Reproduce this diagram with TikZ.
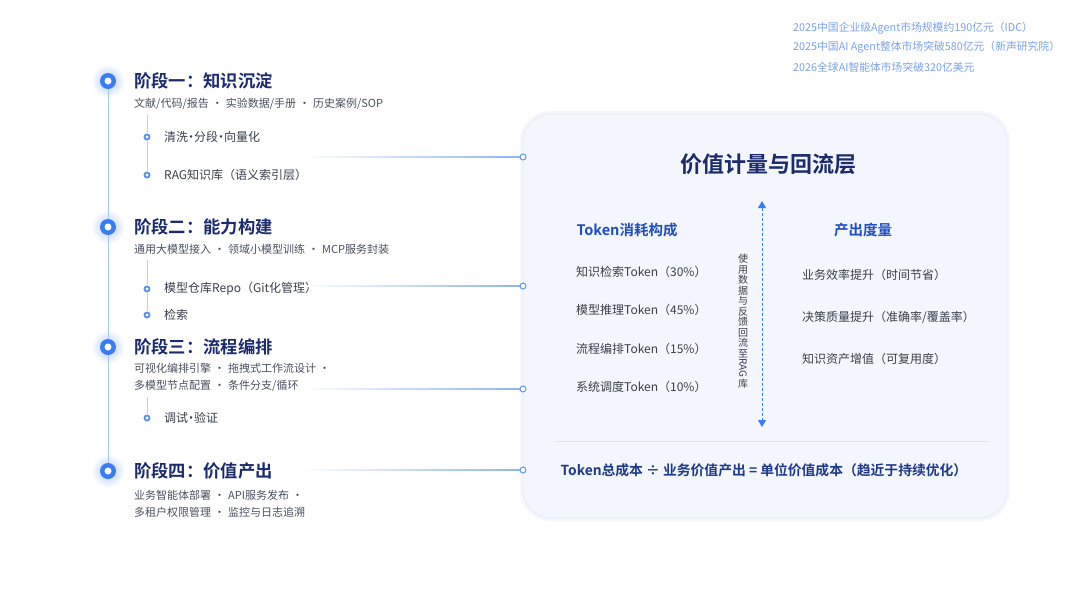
\documentclass[tikz,border=0pt]{standalone}
\usepackage{fontspec}
\setmainfont{Noto Sans CJK SC}[BoldFont={Noto Sans CJK SC Bold}]
\usetikzlibrary{arrows.meta,calc}
\definecolor{navy}{HTML}{1B2B6E}
\definecolor{headblue}{HTML}{1F4FC0}
\definecolor{txt}{HTML}{3A3F4B}
\definecolor{subgray}{HTML}{4A5060}
\definecolor{toptxt}{HTML}{7BA3E6}
\definecolor{tline}{HTML}{A9C6F8}
\definecolor{dotblue}{HTML}{3A7DF2}
\definecolor{connblue}{HTML}{8DB4F5}
\definecolor{panelfill}{HTML}{F3F6FC}
\definecolor{panelborder}{HTML}{E6ECF6}
\definecolor{sepline}{HTML}{DCE5F3}
\definecolor{formula}{HTML}{1E3A8A}
\newcommand\gsep{\hspace{6pt}\makebox[5pt][c]{·}\hspace{6pt}}
\newcommand\tsep{\hspace{1pt}\makebox[4pt][c]{·}\hspace{1pt}}
\begin{document}
\begin{tikzpicture}[x=1pt,y=-1pt,
  stagetitle/.style={anchor=west,inner sep=0,text=navy,font=\fontsize{17.3}{20}\selectfont\bfseries},
  stagesub/.style={anchor=west,inner sep=0,text=subgray,align=left,font=\fontsize{11}{17}\selectfont},
  subitem/.style={anchor=west,inner sep=0,text=txt,font=\fontsize{12}{14}\selectfont},
  stagedot/.style={circle,inner sep=0,minimum size=16pt,fill=dotblue,path picture={\fill[white] (path picture bounding box.center) circle (3.5pt);}},
  subdot/.style={circle,inner sep=0,minimum size=7pt,fill=dotblue!85,path picture={\fill[white] (path picture bounding box.center) circle (1.6pt);}},
  enddot/.style={circle,inner sep=0,minimum size=6pt,draw=dotblue!80,line width=1pt,fill=white},
  toptext/.style={anchor=west,inner sep=0,text=toptxt,font=\fontsize{10.8}{12}\selectfont},
  panelhead/.style={inner sep=0,text=headblue,font=\fontsize{14.5}{16}\selectfont\bfseries},
  leftitem/.style={anchor=west,inner sep=0,text=txt,font=\fontsize{12}{14}\selectfont},
  timeline/.style={draw=tline,line width=1pt},
  branch/.style={draw=tline!80,line width=0.8pt},
]
\useasboundingbox (0,0) rectangle (1080,592);
\fill[white] (0,0) rectangle (1080,592);

% top right notes
\node[toptext] (n1) at (793,28) {2025中国企业级Agent市场规模约190亿元（IDC）};
\node[toptext] (n2) at (793,47) {2025中国AI Agent整体市场突破580亿元（新声研究院）};
\node[toptext] (n3) at (793,67) {2026全球AI智能体市场突破320亿美元};

% panel
\fill[rounded corners=30,fill=panelborder!40] (520,111) rectangle (1010,521);
\draw[rounded corners=28,fill=panelfill,draw=panelborder,line width=0.8pt] (523,114) rectangle (1007,518);

% stage coordinates
\coordinate (p1) at (108,81);
\coordinate (p2) at (108,227);
\coordinate (p3) at (108,347);
\coordinate (p4) at (108,471);
\foreach \p in {p1,p2,p3,p4}{
  \shade[inner color=dotblue!40,outer color=white] (\p) circle (17);
}
\draw[timeline] (p1) -- (p4);

\node[stagedot] (s1) at (p1) {};
\node[stagedot] (s2) at (p2) {};
\node[stagedot] (s3) at (p3) {};
\node[stagedot] (s4) at (p4) {};

% stage 1
\node[stagetitle] (t1) at (134,81) {阶段一：知识沉淀};
\node[stagesub] (u1) at (134,104) {文献/代码/报告\gsep 实验数据/手册\gsep 历史案例/SOP};
\coordinate (b1) at (147,115);
\node[subdot] (d11) at (147,137) {};
\node[subdot] (d12) at (147,175) {};
\draw[branch] (b1) -- (d11) -- (d12);
\node[subitem] (i11) at (164,137) {清洗\tsep 分段\tsep 向量化};
\node[subitem] (i12) at (164,175) {RAG知识库（语义索引层）};

% stage 2
\node[stagetitle] (t2) at (134,227) {阶段二：能力构建};
\node[stagesub] (u2) at (134,249) {通用大模型接入\gsep 领域小模型训练\gsep MCP服务封装};
\coordinate (b2) at (147,260);
\node[subdot] (d21) at (147,289) {};
\node[subdot] (d22) at (147,315) {};
\draw[branch] (b2) -- (d21) -- (d22);
\node[subitem] (i21) at (164,289) {模型仓库Repo（Git化管理）};
\node[subitem] (i22) at (164,315) {检索};

% stage 3
\node[stagetitle] (t3) at (134,347) {阶段三：流程编排};
\node[stagesub] (u3) at (134,377.5) {可视化编排引擎\gsep 拖拽式工作流设计\gsep\\多模型节点配置\gsep 条件分支/循环};
\coordinate (b3) at (147,397);
\node[subdot] (d31) at (147,418) {};
\draw[branch] (b3) -- (d31);
\node[subitem] (i31) at (164,418) {调试\tsep 验证};

% stage 4
\node[stagetitle] (t4) at (134,471) {阶段四：价值产出};
\node[stagesub] (u4) at (134,504) {业务智能体部署\gsep API服务发布\gsep\\多租户权限管理\gsep 监控与日志追溯};

% connectors
\coordinate (c1) at (300,157);
\coordinate (c2) at (300,286);
\coordinate (c3) at (300,389);
\coordinate (c4) at (300,470);
\coordinate (e1c) at (523,157);
\coordinate (e2c) at (523,286);
\coordinate (e3c) at (523,389);
\coordinate (e4c) at (523,470);
\foreach \a/\b in {c1/e1c,c2/e2c,c3/e3c,c4/e4c}{
  \shade[left color=white,right color=connblue] ($(\a)+(0,-0.5)$) rectangle ($(\b)+(0,0.5)$);
}
\node[enddot] (e1) at (e1c) {};
\node[enddot] (e2) at (e2c) {};
\node[enddot] (e3) at (e3c) {};
\node[enddot] (e4) at (e4c) {};

% panel contents
\node[inner sep=0,text=navy,font=\fontsize{22}{24}\selectfont\bfseries] (ptitle) at (768,164) {价值计量与回流层};
\node[panelhead] (hl) at (627,230) {Token消耗构成};
\node[panelhead] (hr) at (863,230) {产出度量};

\node[leftitem] (l1) at (576,272) {知识检索Token（30\%）};
\node[leftitem] (l2) at (576,310) {模型推理Token（45\%）};
\node[leftitem] (l3) at (576,349) {流程编排Token（15\%）};
\node[leftitem] (l4) at (576,387) {系统调度Token（10\%）};

\node[leftitem] (r1) at (802,275) {业务效率提升（时间节省）};
\node[leftitem] (r2) at (802,317) {决策质量提升（准确率/覆盖率）};
\node[leftitem] (r3) at (802,359) {知识资产增值（可复用度）};

\coordinate (at) at (762,201);
\coordinate (ab) at (762,427);
\draw[dotblue,line width=0.9pt,dash pattern=on 3pt off 2pt,{Triangle[length=7pt,width=8pt]}-{Triangle[length=7pt,width=8pt]}] (at) -- (ab);
\node[inner sep=0,align=center,text=txt,font=\fontsize{10}{10.5}\selectfont] (vt) at (743,321) {使\\用\\数\\据\\与\\反\\馈\\回\\流\\至\\\rotatebox[origin=c]{-90}{RAG}\\库};

\coordinate (sl) at (555,441);
\coordinate (sr) at (988,441);
\draw[sepline,line width=1pt] (sl) -- (sr);

\node[inner sep=0,text=formula,font=\fontsize{13.8}{16}\selectfont\bfseries] (fm) at (764,470) {Token总成本 ÷ 业务价值产出 = 单位价值成本（趋近于持续优化）};
\end{tikzpicture}
\end{document}
